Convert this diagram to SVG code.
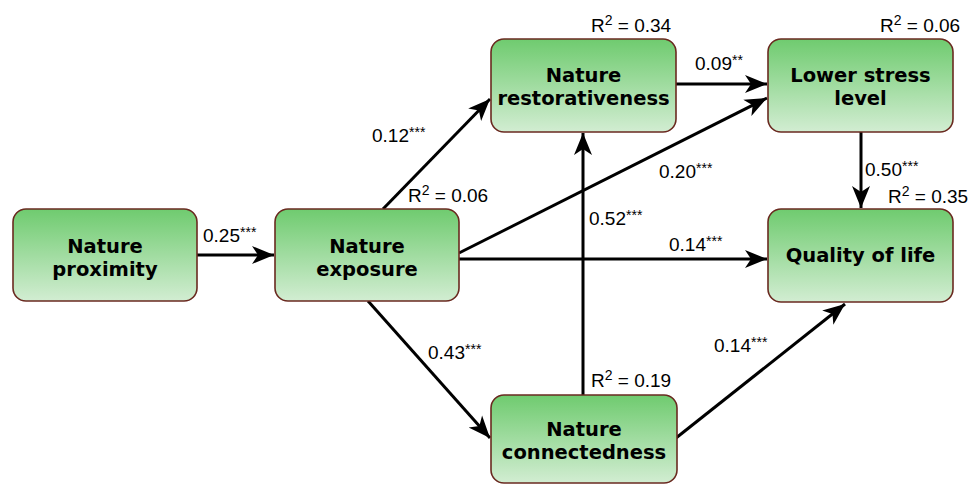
<svg xmlns="http://www.w3.org/2000/svg" width="974" height="484" viewBox="0 0 974 484">
<defs>
<linearGradient id="g" x1="0" y1="0" x2="0" y2="1">
<stop offset="0" stop-color="#6fcb6f"/>
<stop offset="1" stop-color="#d2edd2"/>
</linearGradient>
<marker id="ah" markerUnits="userSpaceOnUse" markerWidth="24" markerHeight="20" refX="22" refY="9" orient="auto" viewBox="0 0 24 18">
<path d="M0,0 L22,9 L0,18 L6,9 Z" fill="#000"/>
</marker>
</defs>
<style>
.box{fill:url(#g);stroke:#6a2a20;stroke-width:1.6}
.nt{font-family:"DejaVu Sans",Verdana,sans-serif;font-weight:bold;font-size:19.5px;fill:#000;text-anchor:middle}
.lb{font-family:"Liberation Sans",Arial,sans-serif;font-size:19px;fill:#000}
.st{font-size:14px}
.ar{stroke:#000;stroke-width:3;fill:none;marker-end:url(#ah)}
</style>
<rect width="974" height="484" fill="#fff"/>
<g id="connectors">
<line class="ar" x1="197" y1="255" x2="274" y2="255"/>
<line class="ar" x1="383" y1="209" x2="490" y2="99"/>
<line class="ar" x1="459" y1="253" x2="767" y2="98"/>
<line class="ar" x1="459" y1="259" x2="767" y2="259"/>
<line class="ar" x1="368" y1="301" x2="490" y2="438"/>
<line class="ar" x1="676" y1="84" x2="767" y2="84"/>
<line class="ar" x1="583" y1="395" x2="583" y2="133"/>
<line class="ar" x1="861" y1="132" x2="861" y2="208"/>
<line class="ar" x1="676" y1="438" x2="845" y2="304"/>
</g>
<g id="nature-proximity">
<rect class="box" x="13" y="209" width="184" height="92" rx="13"/>
<text class="nt" x="105" y="253">Nature</text>
<text class="nt" x="105" y="276">proximity</text>
</g>
<g id="nature-exposure">
<rect class="box" x="275" y="209" width="184" height="92" rx="13"/>
<text class="nt" x="367" y="253">Nature</text>
<text class="nt" x="367" y="276">exposure</text>
</g>
<g id="nature-restorativeness">
<rect class="box" x="491" y="39" width="185" height="93" rx="13"/>
<text class="nt" x="583.5" y="82">Nature</text>
<text class="nt" x="583.5" y="105">restorativeness</text>
</g>
<g id="lower-stress-level">
<rect class="box" x="768" y="39" width="185" height="93" rx="13"/>
<text class="nt" x="860.5" y="82">Lower stress</text>
<text class="nt" x="860.5" y="105">level</text>
</g>
<g id="quality-of-life">
<rect class="box" x="768" y="209" width="185" height="93" rx="13"/>
<text class="nt" x="860.5" y="262">Quality of life</text>
</g>
<g id="nature-connectedness">
<rect class="box" x="491" y="395" width="186" height="88" rx="13"/>
<text class="nt" x="584" y="436">Nature</text>
<text class="nt" x="584" y="459">connectedness</text>
</g>
<g id="labels">
<text class="lb" x="203" y="242">0.25<tspan class="st" dy="-5">***</tspan></text>
<text class="lb" x="372" y="142">0.12<tspan class="st" dy="-5">***</tspan></text>
<text class="lb" x="408" y="202">R<tspan class="st" dy="-7">2</tspan><tspan dy="7"> = 0.06</tspan></text>
<text class="lb" x="659" y="178">0.20<tspan class="st" dy="-5">***</tspan></text>
<text class="lb" x="589" y="225">0.52<tspan class="st" dy="-5">***</tspan></text>
<text class="lb" x="669" y="251">0.14<tspan class="st" dy="-5">***</tspan></text>
<text class="lb" x="428" y="359">0.43<tspan class="st" dy="-5">***</tspan></text>
<text class="lb" x="714" y="352">0.14<tspan class="st" dy="-5">***</tspan></text>
<text class="lb" x="591" y="387">R<tspan class="st" dy="-7">2</tspan><tspan dy="7"> = 0.19</tspan></text>
<text class="lb" x="591" y="32">R<tspan class="st" dy="-7">2</tspan><tspan dy="7"> = 0.34</tspan></text>
<text class="lb" x="695" y="70">0.09<tspan class="st" dy="-5">**</tspan></text>
<text class="lb" x="880" y="32">R<tspan class="st" dy="-7">2</tspan><tspan dy="7"> = 0.06</tspan></text>
<text class="lb" x="865" y="176">0.50<tspan class="st" dy="-5">***</tspan></text>
<text class="lb" x="888" y="203">R<tspan class="st" dy="-7">2</tspan><tspan dy="7"> = 0.35</tspan></text>
</g>
</svg>
